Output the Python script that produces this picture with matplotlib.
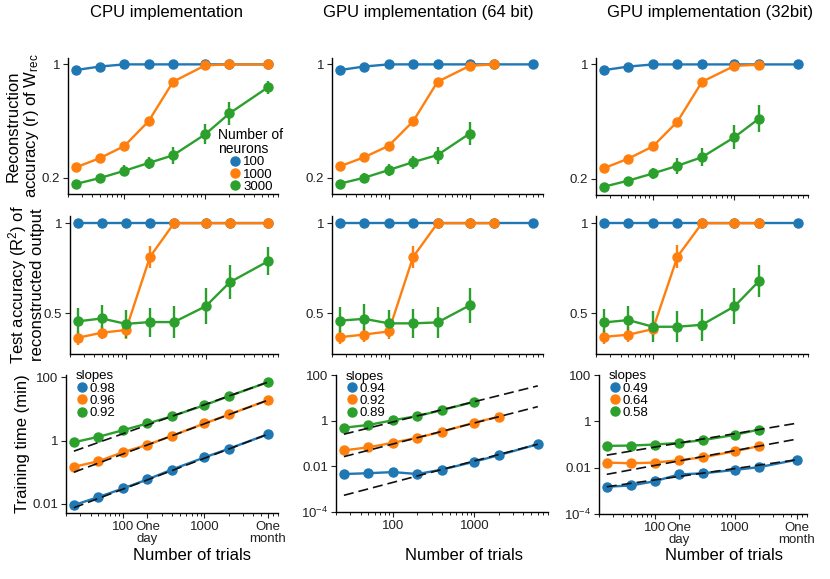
import numpy as np
import matplotlib
matplotlib.use('Agg')
import matplotlib.pyplot as plt
from matplotlib.lines import Line2D
from matplotlib.ticker import NullFormatter, NullLocator

plt.rcParams['font.family'] = ['Liberation Sans', 'DejaVu Sans']
plt.rcParams['mathtext.fontset'] = 'custom'
plt.rcParams['mathtext.rm'] = 'Liberation Sans'
plt.rcParams['mathtext.it'] = 'Liberation Sans'
plt.rcParams['axes.linewidth'] = 1.0

# number of trials
trials = [25, 50, 100, 200, 400, 1000, 2000, 6000]
sizes = ['100', '1000', '3000']
colors = ['#1f77b4', '#ff7f0e', '#2ca02c']

# reconstruction accuracy (r) of W_rec
cpu_r_100 = [0.96, 0.985, 1, 1, 1, 1, 1, 1]
cpu_r_1000 = [0.273, 0.339, 0.424, 0.60, 0.877, 0.993, 1, 1]
cpu_r_3000 = [0.156, 0.198, 0.249, 0.304, 0.358, 0.506, 0.654, 0.838]
cpu_r_3000_err = [0.015, 0.03, 0.04, 0.045, 0.06, 0.07, 0.08, 0.045]

gpu64_r_100 = [0.96, 0.985, 1, 1, 1, 1, 1, 1]
gpu64_r_1000 = [0.28, 0.345, 0.425, 0.598, 0.877, 0.99, 1.0]
gpu64_r_3000 = [0.158, 0.20, 0.254, 0.31, 0.36, 0.512]
gpu64_r_3000_err = [0.015, 0.03, 0.04, 0.045, 0.06, 0.08]

gpu32_r_100 = [0.96, 0.985, 1, 1, 1, 1, 1, 1]
gpu32_r_1000 = [0.273, 0.34, 0.426, 0.60, 0.878, 0.99, 0.998]
gpu32_r_3000 = [0.143, 0.186, 0.236, 0.29, 0.35, 0.49, 0.62]
gpu32_r_3000_err = [0.015, 0.025, 0.038, 0.055, 0.063, 0.083, 0.095]

# test accuracy (R^2) of reconstructed output
cpu_R2_100 = [1, 1, 1, 1, 1, 1, 1, 1]
cpu_R2_1000 = [0.365, 0.393, 0.408, 0.813, 1, 1, 1, 1]
cpu_R2_1000_err = [0.04, 0.035, 0.05, 0.063, 0, 0, 0, 0]
cpu_R2_3000 = [0.456, 0.472, 0.442, 0.452, 0.452, 0.54, 0.673, 0.789]
cpu_R2_3000_err = [0.076, 0.074, 0.076, 0.08, 0.087, 0.1, 0.094, 0.077]

gpu64_R2_100 = [1, 1, 1, 1, 1, 1, 1, 1]
gpu64_R2_1000 = [0.368, 0.383, 0.40, 0.813, 1, 1, 1]
gpu64_R2_1000_err = [0.04, 0.04, 0.04, 0.063, 0, 0, 0]
gpu64_R2_3000 = [0.46, 0.47, 0.445, 0.445, 0.45, 0.545]
gpu64_R2_3000_err = [0.075, 0.08, 0.075, 0.08, 0.085, 0.098]

gpu32_R2_100 = [1, 1, 1, 1, 1, 1, 1, 1]
gpu32_R2_1000 = [0.37, 0.382, 0.413, 0.815, 1, 1, 1]
gpu32_R2_1000_err = [0.04, 0.04, 0.04, 0.063, 0, 0, 0]
gpu32_R2_3000 = [0.45, 0.463, 0.426, 0.426, 0.437, 0.539, 0.679]
gpu32_R2_3000_err = [0.076, 0.078, 0.085, 0.085, 0.09, 0.1, 0.09]

# training time (min)
cpu_t_100 = [0.0089, 0.016, 0.030, 0.058, 0.12, 0.29, 0.55, 1.58]
cpu_t_1000 = [0.146, 0.22, 0.425, 0.73, 1.41, 3.47, 6.7, 19]
cpu_t_3000 = [0.88, 1.31, 2.12, 3.47, 5.9, 13.2, 25.6, 71]
cpu_slopes = [0.98, 0.96, 0.92]

gpu64_t_100 = [0.0046, 0.005, 0.0056, 0.0046, 0.0072, 0.016, 0.031, 0.093]
gpu64_t_1000 = [0.05, 0.068, 0.108, 0.18, 0.33, 0.82, 1.5]
gpu64_t_3000 = [0.49, 0.65, 1.04, 1.6, 2.9, 6.8]
gpu64_slopes = [0.94, 0.92, 0.89]

gpu32_t_100 = [0.0015, 0.0017, 0.0026, 0.0051, 0.0057, 0.008, 0.0105, 0.022]
gpu32_t_1000 = [0.0166, 0.0155, 0.0166, 0.021, 0.028, 0.051, 0.085]
gpu32_t_3000 = [0.087, 0.09, 0.1, 0.117, 0.155, 0.26, 0.44]
gpu32_slopes = [0.49, 0.64, 0.58]

titles = ['CPU implementation', 'GPU implementation (64 bit)', 'GPU implementation (32bit)']

fig = plt.figure(figsize=(8.3, 5.79), dpi=100)


def ax_px(l, t, r, b):
    return fig.add_axes([l / 830, 1 - b / 579, (r - l) / 830, (b - t) / 579])


def style(ax):
    ax.spines['top'].set_visible(False)
    ax.spines['right'].set_visible(False)
    ax.set_xscale('log')
    ax.set_xlim(20, 8000)
    ax.tick_params(labelsize=9.5, length=3.5, width=0.8, colors='#222222', pad=2)
    ax.tick_params(which='minor', length=2, width=0.6)


def plot_series(ax, ys, errs=None):
    for i, y in enumerate(ys):
        x = trials[:len(y)]
        e = None if errs is None else errs[i]
        ax.errorbar(x, y, yerr=e, color=colors[i], marker='o', ms=6.5,
                    lw=1.7, elinewidth=1.7, capsize=0)


top_data = [
    ([cpu_r_100, cpu_r_1000, cpu_r_3000], [None, None, cpu_r_3000_err]),
    ([gpu64_r_100, gpu64_r_1000, gpu64_r_3000], [None, None, gpu64_r_3000_err]),
    ([gpu32_r_100, gpu32_r_1000, gpu32_r_3000], [None, None, gpu32_r_3000_err]),
]
mid_data = [
    ([cpu_R2_100, cpu_R2_1000, cpu_R2_3000], [None, cpu_R2_1000_err, cpu_R2_3000_err]),
    ([gpu64_R2_100, gpu64_R2_1000, gpu64_R2_3000], [None, gpu64_R2_1000_err, gpu64_R2_3000_err]),
    ([gpu32_R2_100, gpu32_R2_1000, gpu32_R2_3000], [None, gpu32_R2_1000_err, gpu32_R2_3000_err]),
]
bot_data = [
    ([cpu_t_100, cpu_t_1000, cpu_t_3000], cpu_slopes),
    ([gpu64_t_100, gpu64_t_1000, gpu64_t_3000], gpu64_slopes),
    ([gpu32_t_100, gpu32_t_1000, gpu32_t_3000], gpu32_slopes),
]

top_pos = [(68, 58, 278, 194), (332, 58, 543, 194), (596, 58, 808, 195)]
mid_pos = [(70, 216, 278, 354), (332, 216, 543, 354), (596, 216, 808, 354)]
bot_pos = [(66, 375, 278, 513), (336, 375, 548, 512), (599, 375, 807, 514)]
title_x = [166, 428, 710]
xlabel_x = [192, 464, 724]

for c in range(3):
    fig.text(title_x[c] / 830, 1 - 12 / 579, titles[c], fontsize=12, ha='center', va='center')
    fig.text(xlabel_x[c] / 830, 1 - 555 / 579, 'Number of trials', fontsize=12,
             ha='center', va='center')

    # top row
    ax = ax_px(*top_pos[c])
    style(ax)
    ys, es = top_data[c]
    plot_series(ax, ys, es)
    ax.set_ylim(0.085, 1.045)
    ax.set_yticks([0.2, 1])
    ax.set_yticklabels(['0.2', '1'])
    ax.xaxis.set_major_formatter(NullFormatter())
    ax.xaxis.set_minor_formatter(NullFormatter())
    if c == 0:
        ax.set_ylabel('Reconstruction\naccuracy (r) of W$_{\\rm rec}$', fontsize=12,
                      linespacing=1.05)
        ax.yaxis.set_label_coords(-0.13, 0.5)
        handles = [Line2D([], [], color=colors[i], marker='o', ls='none', ms=6.5) for i in range(3)]
        leg = ax.legend(handles, sizes, title='Number of\nneurons', loc='lower right',
                        bbox_to_anchor=(1.07, -0.06), frameon=False, fontsize=9.5,
                        title_fontsize=10, handletextpad=0.1, labelspacing=0.0,
                        borderpad=0.2, handlelength=1.0)
        leg._legend_box.align = 'center'
        leg.get_title().set_linespacing(1.0)

    # middle row
    ax = ax_px(*mid_pos[c])
    style(ax)
    ys, es = mid_data[c]
    plot_series(ax, ys, es)
    ax.set_ylim(0.275, 1.04)
    ax.set_yticks([0.5, 1])
    ax.set_yticklabels(['0.5', '1'])
    ax.xaxis.set_major_formatter(NullFormatter())
    ax.xaxis.set_minor_formatter(NullFormatter())
    if c == 0:
        ax.set_ylabel('Test accuracy (R$^2$) of\nreconstructed output', fontsize=12,
                      linespacing=1.05)
        ax.yaxis.set_label_coords(-0.12, 0.5)

    # bottom row
    ax = ax_px(*bot_pos[c])
    style(ax)
    ax.set_yscale('log')
    ys, slopes = bot_data[c]
    plot_series(ax, ys)
    xfit = np.array([trials[0], trials[-1]], dtype=float)
    for i, y in enumerate(ys):
        xl = trials[len(y) - 1]
        ax.plot(xfit, y[-1] * (xfit / xl) ** slopes[i], color='#111111', ls=(0, (6, 3)),
                lw=1.2, zorder=5)
    if c == 0:
        ax.set_ylim(0.005, 120)
        ax.set_yticks([0.01, 1, 100])
        ax.set_yticklabels(['0.01', '1', '100'])
    else:
        ax.set_ylim(1e-4, 100)
        ax.set_yticks([1e-4, 0.01, 1, 100])
        ax.set_yticklabels(['10$^{-4}$', '0.01', '1', '100'])
    ax.yaxis.set_minor_locator(NullLocator())
    if c == 1:
        ax.set_xticks([100, 1000])
        ax.set_xticklabels(['100', '1000'])
    else:
        ax.set_xticks([100, 200, 1000, 6000])
        ax.set_xticklabels(['100', 'One\nday', '1000', 'One\nmonth'], va='top')
        for t in ax.get_xticklabels():
            t.set_linespacing(1.0)
    ax.xaxis.set_minor_formatter(NullFormatter())
    if c == 0:
        ax.set_ylabel('Training time (min)', fontsize=12)
        ax.yaxis.set_label_coords(-0.17, 0.5)
    handles = [Line2D([], [], color=colors[i], marker='o', ls='none', ms=6.5) for i in range(3)]
    leg = ax.legend(handles, ['%.2f' % s for s in slopes], title='slopes', loc='upper left',
                    bbox_to_anchor=(0.0, 1.1), frameon=False, fontsize=9.5,
                    title_fontsize=9.5, handletextpad=0.1, labelspacing=0.0,
                    borderpad=0.2, handlelength=1.0)
    leg._legend_box.align = 'left'

fig.savefig('out.png', dpi=100)
